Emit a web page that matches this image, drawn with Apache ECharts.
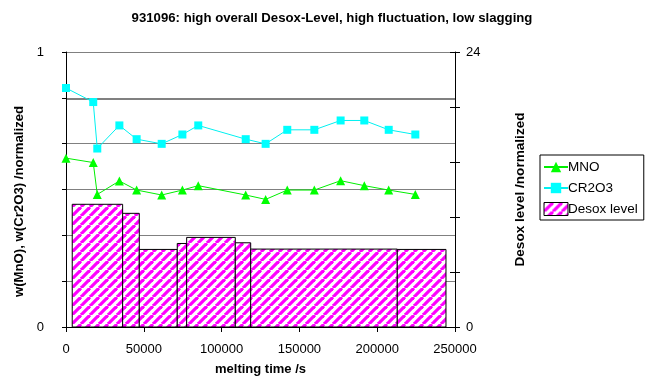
<!DOCTYPE html>
<html>
<head>
<meta charset="utf-8">
<script src="https://cdn.jsdelivr.net/npm/echarts@6/dist/echarts.min.js"></script>
<style>
  html, body { margin: 0; padding: 0; background: #fff; }
  #chart { width: 659px; height: 385px; }
</style>
</head>
<body>
<div id="chart"></div>
<script>
  // melting time /s of the measurement points
  var meltTime = [0, 17500, 20100, 34300, 45400, 61500, 74800, 85000, 115500, 128300, 142200, 159600, 176500, 191700, 207400, 224500]
  var mnoValues = [0.614, 0.598, 0.482, 0.531, 0.498, 0.480, 0.498, 0.514, 0.480, 0.464, 0.498, 0.498, 0.532, 0.514, 0.498, 0.482]
  var cr2o3Values = [0.869, 0.818, 0.649, 0.733, 0.683, 0.666, 0.700, 0.733, 0.683, 0.666, 0.717, 0.717, 0.751, 0.751, 0.717, 0.700]

  // desox level: blocks from start to end time
  var desoxStart = [4000, 36400, 47100, 71500, 77550, 108800, 118700, 212900]
  var desoxEnd = [36400, 47100, 71500, 77550, 108800, 118700, 212900, 244200]
  var desoxLevel = [10.71, 9.92, 6.77, 7.29, 7.82, 7.35, 6.80, 6.77]

  // hatch pattern, magenta "/" stripes on white
  function makeHatch () {
    var n = 9
    var c = document.createElement('canvas')
    c.width = n
    c.height = n
    var ctx = c.getContext('2d')
    ctx.fillStyle = '#fff'
    ctx.fillRect(0, 0, n, n)
    ctx.strokeStyle = '#ff00ff'
    ctx.lineWidth = 3.2
    ;[-n, 0, n].forEach(function (k) {
      ctx.beginPath()
      ctx.moveTo(k, n)
      ctx.lineTo(k + n, 0)
      ctx.stroke()
    })
    return { image: c, repeat: 'repeat' }
  }
  var hatch = makeHatch()

  var zip = function (xs, ys) { return xs.map(function (x, i) { return [x, ys[i]] }) }
  var desoxData = desoxStart.map(function (s, i) { return [s, desoxEnd[i], desoxLevel[i]] })

  var font = 'Liberation Sans, Arial, sans-serif'
  var chart = echarts.init(document.getElementById('chart'))
  chart.setOption({
    animation: false,
    textStyle: { fontFamily: font },
    title: {
      text: '931096: high overall Desox-Level, high fluctuation, low slagging',
      left: 327,
      textAlign: 'center',
      top: 7,
      textStyle: { fontSize: 13.2, fontWeight: 'bold', color: '#000', fontFamily: font }
    },
    grid: { left: 66, right: 204, top: 52, bottom: 58 },
    legend: {
      orient: 'vertical',
      left: 540,
      top: 155,
      borderColor: '#000',
      borderWidth: 1,
      padding: [5, 6, 4, 3],
      itemGap: 7,
      itemWidth: 24,
      itemHeight: 13,
      textStyle: { fontSize: 13.5, color: '#000', fontFamily: font, padding: [0, 0, 0, -5] },
      data: [
        { name: 'MNO' },
        { name: 'CR2O3' },
        { name: 'Desox level', icon: 'rect', itemStyle: { color: hatch, borderColor: '#000', borderWidth: 1 } }
      ]
    },
    xAxis: {
      type: 'value',
      min: 0,
      max: 250000,
      interval: 50000,
      name: 'melting time /s',
      nameLocation: 'middle',
      nameGap: 36,
      nameTextStyle: { fontSize: 13, fontWeight: 'bold', color: '#000' },
      axisLine: { show: true, lineStyle: { color: '#000', width: 1 } },
      axisTick: { show: true, length: 5, lineStyle: { color: '#000' } },
      axisLabel: { fontSize: 13, color: '#000', margin: 16, formatter: function (v) { return String(v) } },
      splitLine: { show: false }
    },
    yAxis: [
      {
        type: 'value',
        min: 0,
        max: 1,
        interval: 1 / 6,
        position: 'left',
        name: 'w(MnO), w(Cr2O3) /normalized',
        nameLocation: 'middle',
        nameRotate: 90,
        nameGap: 37,
        nameTextStyle: { fontSize: 13.2, fontWeight: 'bold', color: '#000', padding: [0, 24, 0, 0] },
        axisLine: { show: true, lineStyle: { color: '#000', width: 1 } },
        axisTick: { show: true, length: 4, lineStyle: { color: '#000' } },
        axisLabel: {
          fontSize: 13,
          color: '#000',
          margin: 22,
          formatter: function (v) {
            if (Math.abs(v) < 1e-6) return '0'
            if (Math.abs(v - 1) < 1e-6) return '1'
            return ''
          }
        },
        splitLine: { show: true, lineStyle: { color: '#808080', width: 1 } }
      },
      {
        type: 'value',
        min: 0,
        max: 24,
        interval: 4.8,
        position: 'right',
        offset: 0,
        name: 'Desox level /normalized',
        nameLocation: 'middle',
        nameRotate: 90,
        nameGap: 58,
        nameTextStyle: { fontSize: 13.6, fontWeight: 'bold', color: '#000' },
        axisLine: { show: true, lineStyle: { color: '#000', width: 1 } },
        axisTick: { show: true, length: 5, lineStyle: { color: '#000' } },
        axisLabel: {
          fontSize: 13,
          color: '#000',
          margin: 11,
          formatter: function (v) {
            if (Math.abs(v) < 1e-6) return '0'
            if (Math.abs(v - 24) < 1e-6) return '24'
            return ''
          }
        },
        splitLine: { show: false }
      },
      {
        // inner half of the crossing ticks on the right axis
        type: 'value',
        min: 0,
        max: 24,
        interval: 4.8,
        position: 'right',
        offset: 0,
        axisLine: { show: false },
        axisTick: { show: true, inside: true, length: 5, lineStyle: { color: '#000' } },
        axisLabel: { show: false },
        splitLine: { show: false }
      }
    ],
    series: [
      {
        name: 'Desox level',
        type: 'custom',
        yAxisIndex: 1,
        z: 1,
        encode: { x: [0, 1], y: 2 },
        data: desoxData,
        renderItem: function (params, api) {
          var p0 = api.coord([api.value(0), 0])
          var p1 = api.coord([api.value(1), api.value(2)])
          return {
            type: 'rect',
            shape: { x: p0[0], y: p1[1], width: p1[0] - p0[0], height: p0[1] - p1[1] },
            style: { fill: hatch, stroke: '#000', lineWidth: 1 }
          }
        }
      },
      {
        name: 'MNO',
        type: 'line',
        z: 3,
        data: zip(meltTime, mnoValues),
        symbol: 'triangle',
        symbolSize: 9,
        color: '#00ff00',
        lineStyle: { color: '#00ee00', width: 1 },
        itemStyle: { color: '#00ff00' },
        markLine: {
          silent: true,
          symbol: 'none',
          label: { show: false },
          lineStyle: { color: '#808080', width: 2, type: 'solid' },
          data: [{ yAxis: 5 / 6 }],
          z: 0
        }
      },
      {
        name: 'CR2O3',
        type: 'line',
        z: 3,
        data: zip(meltTime, cr2o3Values),
        symbol: 'rect',
        symbolSize: 8,
        color: '#00ffff',
        lineStyle: { color: '#00f0f0', width: 1 },
        itemStyle: { color: '#00ffff' }
      }
    ]
  })
</script>
</body>
</html>
